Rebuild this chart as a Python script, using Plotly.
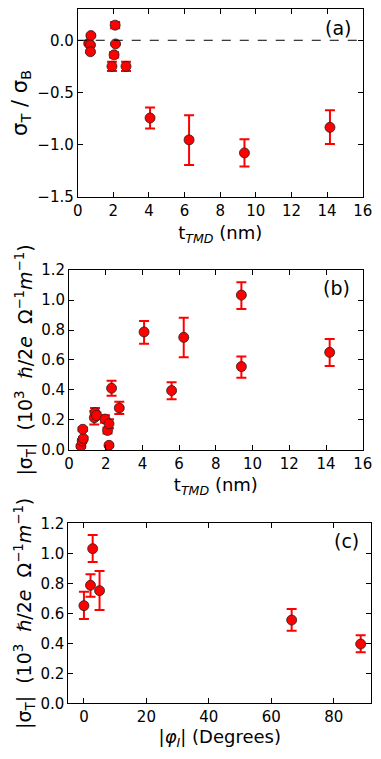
import plotly.graph_objects as go
from plotly.subplots import make_subplots

# panel (a): sigma_T / sigma_B vs TMD thickness
t_a = [0.62, 0.74, 0.71, 0.71, 2.10, 2.12, 2.04, 1.92, 2.71, 4.06, 6.25, 9.36, 14.16]
ratio_a = [-0.03, 0.045, -0.045, -0.11, 0.145, -0.035, -0.14, -0.25, -0.25, -0.745, -0.955, -1.08, -0.835]
err_a_up = [0.01, 0.01, 0.01, 0.01, 0.03, 0.01, 0.025, 0.045, 0.045, 0.10, 0.235, 0.13, 0.165]
err_a_dn = [0.01, 0.01, 0.01, 0.01, 0.03, 0.01, 0.025, 0.045, 0.045, 0.10, 0.24, 0.13, 0.16]

# panel (b): |sigma_T| vs TMD thickness
t_b = [0.65, 0.72, 0.78, 0.75, 1.38, 1.42, 1.50, 1.96, 2.10, 2.18, 2.18, 2.32, 2.74, 4.09, 5.59, 6.25, 9.39, 9.39, 14.2]
sig_b = [0.025, 0.06, 0.077, 0.138, 0.215, 0.249, 0.23, 0.206, 0.13, 0.175, 0.031, 0.412, 0.28, 0.787, 0.396, 0.751, 1.033, 0.556, 0.651]
err_b_up = [0.01, 0.01, 0.01, 0.012, 0.045, 0.03, 0.02, 0.025, 0.02, 0.03, 0.01, 0.05, 0.042, 0.073, 0.055, 0.13, 0.085, 0.068, 0.089]
err_b_dn = [0.01, 0.01, 0.01, 0.012, 0.045, 0.03, 0.02, 0.025, 0.02, 0.03, 0.01, 0.05, 0.04, 0.078, 0.058, 0.133, 0.093, 0.074, 0.091]

# panel (c): |sigma_T| vs |phi_I|
phi_c = [0.0, 2.1, 2.8, 5.0, 66.5, 88.6]
sig_c = [0.651, 0.787, 1.031, 0.751, 0.555, 0.395]
err_c_up = [0.093, 0.073, 0.091, 0.131, 0.074, 0.058]
err_c_dn = [0.089, 0.076, 0.089, 0.129, 0.071, 0.055]

FONT = "DejaVu Sans"
RED = "#ff0000"

fig = make_subplots(rows=3, cols=1)


def add_points(x, y, up, dn, row):
    fig.add_trace(go.Scatter(
        x=x, y=y, mode="markers",
        marker=dict(color=RED, size=10, line=dict(color="#222222", width=0.8)),
        error_y=dict(type="data", symmetric=False, array=up, arrayminus=dn,
                     color=RED, thickness=2, width=5),
        showlegend=False), row=row, col=1)


add_points(t_a, ratio_a, err_a_up, err_a_dn, 1)
add_points(t_b, sig_b, err_b_up, err_b_dn, 2)
add_points(phi_c, sig_c, err_c_up, err_c_dn, 3)

# dashed zero line in panel (a)
fig.add_hline(y=0, line=dict(color="black", width=1, dash="dash"), row=1, col=1)

axis_style = dict(showgrid=False, zeroline=False, showline=True, linecolor="black",
                  linewidth=1, mirror="ticks", ticks="inside", ticklen=5,
                  tickcolor="black", automargin=False,
                  tickfont=dict(family=FONT, size=15, color="black"))

sig_title = "|σ<sub>T</sub>|  (10<sup>3</sup>  ℏ/2<i>e</i>  Ω<sup>−1</sup><i>m</i><sup>−1</sup>)"
t_title = "t<sub><i>TMD</i></sub> (nm)"

fig.update_xaxes(axis_style)
fig.update_yaxes(axis_style)

# the page body has an 8px margin, so the figure is 8px smaller than the window
fig.update_layout(
    template="none",
    xaxis=dict(domain=[0.187, 0.951], range=[0, 16], dtick=2,
               title=dict(text=t_title, standoff=7, font=dict(size=18))),
    yaxis=dict(domain=[0.7487, 0.9987], range=[-1.5, 0.3], tickvals=[-1.5, -1.0, -0.5, 0.0],
               tickformat=".1f",
               title=dict(text="σ<sub>T</sub> / σ<sub>B</sub>", standoff=10, font=dict(size=21))),
    xaxis2=dict(domain=[0.1635, 0.951], range=[0, 16], dtick=2,
                title=dict(text=t_title, standoff=6, font=dict(size=18))),
    yaxis2=dict(domain=[0.4115, 0.6511], range=[0, 1.2], dtick=0.2, tickformat=".1f",
                title=dict(text=sig_title, standoff=3, font=dict(size=19))),
    xaxis3=dict(domain=[0.1617, 0.974], range=[-5, 92], dtick=20,
                title=dict(text="|<i>φ<sub>I</sub></i>| (Degrees)", standoff=2, font=dict(size=18))),
    yaxis3=dict(domain=[0.0742, 0.3138], range=[0, 1.2], dtick=0.2, tickformat=".1f",
                title=dict(text=sig_title, standoff=3, font=dict(size=19))),
    width=373, height=751,
    margin=dict(l=0, r=0, t=0, b=0),
    paper_bgcolor="white", plot_bgcolor="white",
    font=dict(family=FONT, color="black"),
)

for label, ax in [("(a)", "1"), ("(b)", "2"), ("(c)", "3")]:
    xref = "x domain" if ax == "1" else "x%s domain" % ax
    yref = "y domain" if ax == "1" else "y%s domain" % ax
    fig.add_annotation(text=label, xref=xref, yref=yref, x=0.965, y=0.9,
                       xanchor="right", yanchor="middle", showarrow=False,
                       font=dict(family=FONT, size=19, color="black"))

fig.write_html("out.html")
